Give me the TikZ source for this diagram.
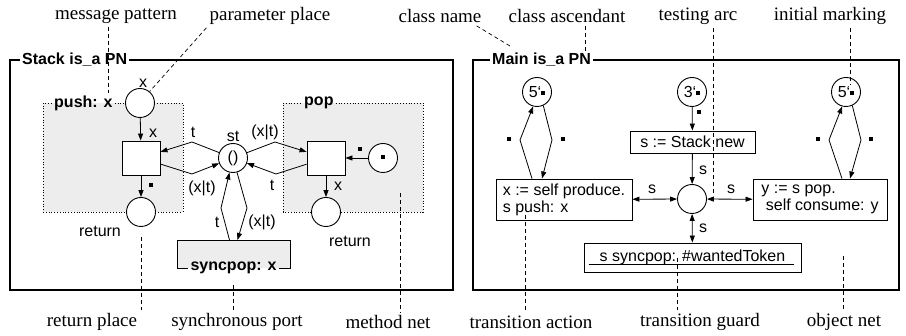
\documentclass[tikz,border=0pt]{standalone}
\usepackage{fontspec}
\setmainfont{Liberation Serif}
\setsansfont{Liberation Sans}
\usetikzlibrary{arrows.meta, positioning}
\newcommand{\tokn}{\rule[0.15em]{4pt}{4pt}}

\begin{document}
\begin{tikzpicture}[x=1pt, y=-1pt,
	place/.style={circle, draw, line width=0.9pt, minimum size=29pt, inner sep=0pt, fill=white, font=\sffamily\fontsize{16}{18}\selectfont},
	trans/.style={rectangle, draw, line width=0.9pt, minimum width=38pt, minimum height=34pt, fill=white},
	action/.style={rectangle, draw, line width=0.9pt, fill=white, align=left, inner sep=4pt, font=\sffamily\fontsize{16}{17}\selectfont},
	methnet/.style={dotted, line width=0.8pt},
	arc/.style={-{Triangle[length=7pt,width=5pt]}, line width=0.8pt},
	dblarc/.style={{Triangle[length=7pt,width=5pt]}-{Triangle[length=7pt,width=5pt]}, line width=0.8pt},
	lead/.style={dash pattern=on 4pt off 3pt, line width=0.7pt},
	note/.style={font=\fontsize{19}{21}\selectfont, inner sep=3pt},
	lbl/.style={font=\sffamily\fontsize{16}{18}\selectfont, inner sep=1pt},
	ttl/.style={font=\sffamily\bfseries\fontsize{16}{18}\selectfont, inner sep=2pt}]

	\useasboundingbox (0,0) rectangle (906,336);

	% class frames
	\node[ttl, anchor=west] (stk) at (20,60) {Stack is\_a PN};
	\node[ttl, anchor=west] (mn) at (490,60) {Main is\_a PN};
	\draw[line width=1.1pt] (stk.west) -- (10,60) -- (10,290) -- (453,290) -- (453,60) -- (stk.east);
	\draw[line width=1.1pt] (mn.west) -- (473,60) -- (473,290) -- (899,290) -- (899,60) -- (mn.east);

	% method nets
	\fill[black!7] (43,103) rectangle (183,212);
	\fill[black!7] (283,103) rectangle (423,212);
	\node[ttl, anchor=west] (push) at (52,103) {push: x};
	\node[ttl, anchor=west] (pop) at (302,103) {pop};
	\draw[methnet] (push.east) -- (183,103) -- (183,212) -- (43,212) -- (43,103) -- (push.west);
	\draw[methnet] (pop.east) -- (423,103) -- (423,212) -- (283,212) -- (283,103) -- (pop.west);

	% synchronous port
	\fill[black!7] (177,240) rectangle (290,268);
	\node[ttl] (sync) at (233.5,268) {syncpop: x};
	\draw[line width=0.9pt] (sync.east) -- (290,268) -- (290,240) -- (177,240) -- (177,268) -- (sync.west);
	\coordinate (tsync) at (233.5,240);

	% Stack net
	\node[place] (ppar) at (140,103) {};
	\node[lbl] (lx) at (143,83) {x};
	\node[trans] (tpush) at (141,158) {};
	\node[place] (pret1) at (141,212) {};
	\node[lbl] (lret1) at (100,231) {return};
	\node[place] (pst) at (233,158) {()};
	\node[lbl] (lst) at (233,136) {st};
	\node[trans] (tpop) at (326,158) {};
	\node[place] (ptok) at (383,158) {\tokn};
	\node[place] (pret2) at (326,212) {};
	\node[lbl] (lret2) at (350,241) {return};

	\draw[arc] (ppar) -- (tpush);
	\node[lbl] at (153,133) {x};
	\draw[arc] (tpush) -- (pret1);
	\node[lbl] at (151,186) {\tokn};
	\draw[arc] (tpop) -- (pret2);
	\node[lbl] at (338,186) {x};
	\draw[arc] (ptok) -- (tpop);
	\node[lbl] at (360,150) {\tokn};

	\coordinate (b1) at (192,142);
	\coordinate (b2) at (192,174);
	\coordinate (b3) at (275,142);
	\coordinate (b4) at (276,174);
	\coordinate (b5) at (221,208);
	\coordinate (b6) at (247,208);
	\draw[arc] (pst) -- (b1) -- (tpush);
	\draw[arc] (tpush) -- (b2) -- (pst);
	\draw[arc] (pst) -- (b3) -- (tpop);
	\draw[arc] (tpop) -- (b4) -- (pst);
	\draw[arc] ([xshift=-4pt]tsync) -- (b5) -- (pst);
	\draw[arc] (pst) -- (b6) -- ([xshift=4pt]tsync);
	\node[lbl] at (193,132) {t};
	\node[lbl] at (202,188) {(x|t)};
	\node[lbl] at (265,132) {(x|t)};
	\node[lbl] at (272,185) {t};
	\node[lbl] at (217,222) {t};
	\node[lbl] at (262,222) {(x|t)};

	% Main net
	\node[place] (pm1) at (537,92) {5\textquoteleft\tokn};
	\node[place] (pm3) at (692,92) {3\textquoteleft\tokn};
	\node[place] (pm5) at (846,92) {5\textquoteleft\tokn};
	\node[action, minimum width=125pt, minimum height=22pt] (tnew) at (692.5,142) {s := Stack new};
	\node[place] (pc) at (692,199) {};
	\node[action, minimum width=136pt, minimum height=41pt] (tprod) at (564,199.5) {x := self produce.\\ s push: x};
	\node[action, minimum width=134pt, minimum height=41pt] (tcons) at (820,199.5) {y := s pop.\\ \ self consume: y};
	\node[action, minimum width=217pt, minimum height=29pt] (tguard) at (692.5,257.5) {s syncpop: \#wantedToken};
	\draw[line width=0.8pt] ([xshift=5pt,yshift=8pt]tguard.south west) -- ([xshift=-7pt,yshift=8pt]tguard.south east);

	\draw[arc] (pm3) -- (tnew);
	\node[lbl] at (699,113) {\tokn};
	\draw[arc] (tnew) -- (pc);
	\node[lbl] at (703,170) {s};
	\draw[dblarc] (tprod) -- (pc);
	\node[lbl] at (652,189) {s};
	\draw[dblarc] (pc) -- (tcons);
	\node[lbl] at (731,189) {s};
	\draw[dblarc] (pc) -- (tguard);
	\node[lbl] at (703,228) {s};

	\coordinate (c1) at (520,140);
	\coordinate (c2) at (552,140);
	\coordinate (c3) at (829,140);
	\coordinate (c4) at (861,140);
	\draw[arc] ([xshift=-32pt]tprod.north) -- (c1) -- (pm1.255);
	\draw[arc] (pm1.295) -- (c2) -- ([xshift=-22pt]tprod.north);
	\draw[arc] ([xshift=22pt]tcons.north) -- (c3) -- (pm5.255);
	\draw[arc] (pm5.295) -- (c4) -- ([xshift=30pt]tcons.north);
	\node[lbl] at (509,140) {\tokn};
	\node[lbl] at (563,140) {\tokn};
	\node[lbl] at (818,140) {\tokn};
	\node[lbl] at (871,140) {\tokn};

	% explanations
	\node[note] (nmsg) at (116,16) {message pattern};
	\node[note] (npar) at (270,16) {parameter place};
	\node[note] (ncls) at (440,16) {class name};
	\node[note] (nasc) at (567,16) {class ascendant};
	\node[note] (ntst) at (698,16) {testing arc};
	\node[note] (nini) at (830,16) {initial marking};
	\node[note] (nrp) at (92,322) {return place};
	\node[note] (nsp) at (237,322) {synchronous port};
	\node[note] (nmn) at (388,322) {method net};
	\node[note] (nta) at (531,322) {transition action};
	\node[note] (ntg) at (700,322) {transition guard};
	\node[note] (non) at (844,322) {object net};

	\coordinate (amsg) at (108,93);
	\coordinate (acls) at (510,46);
	\coordinate (aasc) at (585,52);
	\coordinate (atst) at (713,195);
	\coordinate (aini) at (850,85);
	\coordinate (arp) at (141,237);
	\coordinate (asp) at (233,285);
	\coordinate (amn) at (400,193);
	\coordinate (ata) at (525,215);
	\coordinate (atg) at (677,258);
	\coordinate (aon) at (843,256);
	\draw[lead] (amsg |- nmsg.south) -- (amsg);
	\draw[lead] (npar.south west) -- (ppar.50);
	\draw[lead] ([xshift=-8pt]ncls.south east) -- (acls);
	\draw[lead] (aasc |- nasc.south) -- (aasc);
	\draw[lead] (atst |- ntst.south) -- (atst);
	\draw[lead] (aini |- nini.south) -- (aini);
	\draw[lead] (arp) -- (arp |- nrp.north);
	\draw[lead] (asp) -- (asp |- nsp.north);
	\draw[lead] (amn) -- (amn |- nmn.north);
	\draw[lead] (ata) -- (ata |- nta.north);
	\draw[lead] (atg) -- (atg |- ntg.north);
	\draw[lead] (aon) -- (aon |- non.north);
\end{tikzpicture}
\end{document}
